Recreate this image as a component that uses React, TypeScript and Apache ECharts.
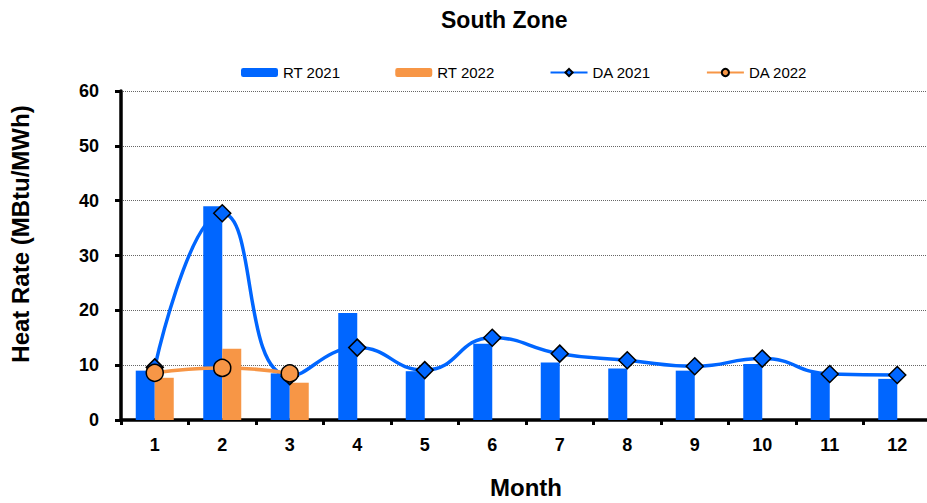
import React, { useEffect, useRef } from "react";
import * as echarts from "echarts";

const months = ["1", "2", "3", "4", "5", "6", "7", "8", "9", "10", "11", "12"];
const rt2021 = [9.0, 39.0, 8.5, 19.5, 8.9, 13.9, 10.5, 9.4, 9.0, 10.2, 8.6, 7.5];
const rt2022 = [7.7, 13.0, 6.8, null, null, null, null, null, null, null, null, null];
const da2021 = [9.6, 37.7, 8.0, 13.2, 9.1, 15.0, 12.1, 10.9, 9.8, 11.2, 8.4, 8.2];
const da2022 = [8.6, 9.5, 8.5, null, null, null, null, null, null, null, null, null];
const yTicks = [0, 10, 20, 30, 40, 50, 60];

const BLUE = "#0066ff";
const ORANGE = "#f79646";
const FONT = "Liberation Sans, Arial, sans-serif";

export default function App() {
  const ref = useRef<HTMLDivElement>(null);
  useEffect(() => {
    if (!ref.current) return;
    const chart = echarts.init(ref.current, null, { renderer: "svg" });
    chart.setOption({
      animation: false,
      textStyle: { fontFamily: FONT },
      title: {
        text: "South Zone",
        left: 436,
        top: 3,
        textStyle: { fontFamily: FONT, fontSize: 23, fontWeight: "bold", color: "#000" },
      },
      legend: {
        left: 236,
        top: 60,
        itemWidth: 37,
        itemHeight: 9,
        itemGap: 55,
        textStyle: { fontFamily: FONT, fontSize: 15, color: "#000" },
        data: ["RT 2021", "RT 2022", "DA 2021", "DA 2022"],
      },
      graphic: [
        {
          type: "text",
          x: 20,
          y: 234,
          rotation: Math.PI / 2,
          style: {
            text: "Heat Rate (MBtu/MWh)",
            font: `bold 24px ${FONT}`,
            fill: "#000",
            textAlign: "center",
            textVerticalAlign: "middle",
          },
        },
      ],
      grid: { left: 121, right: -4, top: 91, bottom: 83, containLabel: false, outerBoundsMode: "none" },
      xAxis: {
        type: "category",
        data: months,
        name: "Month",
        nameLocation: "middle",
        nameGap: 55,
        nameTextStyle: { fontFamily: FONT, fontSize: 24, fontWeight: "bold", color: "#000" },
        axisLine: { lineStyle: { color: "#000", width: 3.5 } },
        axisTick: { show: true, inside: false, length: 5, lineStyle: { color: "#000", width: 3 } },
        axisLabel: { fontFamily: FONT, fontSize: 18, fontWeight: "bold", color: "#000", margin: 16 },
        splitLine: { show: false },
      },
      yAxis: {
        type: "value",
        min: 0,
        max: 60,
        interval: 10,
        axisLine: { show: true, lineStyle: { color: "#000", width: 3.5 } },
        axisTick: { show: true, length: 6, lineStyle: { color: "#000", width: 3 } },
        axisLabel: {
          fontFamily: FONT,
          fontSize: 18,
          fontWeight: "bold",
          color: "#000",
          margin: 22,
          formatter: (v: number) => (yTicks.includes(v) ? String(v) : ""),
        },
        splitLine: { show: true, lineStyle: { color: "#666", type: "dotted", width: 1 } },
      },
      series: [
        {
          name: "RT 2021",
          type: "bar",
          data: rt2021,
          barWidth: 19,
          barGap: "0%",
          itemStyle: { color: BLUE },
        },
        {
          name: "RT 2022",
          type: "bar",
          data: rt2022,
          barWidth: 19,
          barGap: "0%",
          itemStyle: { color: ORANGE },
        },
        {
          name: "DA 2021",
          type: "line",
          data: da2021,
          smooth: 0.5,
          symbol: "diamond",
          symbolSize: 17,
          lineStyle: { color: BLUE, width: 3.5 },
          itemStyle: { color: BLUE, borderColor: "#000", borderWidth: 1.5 },
          z: 3,
        },
        {
          name: "DA 2022",
          type: "line",
          data: da2022,
          smooth: 0.5,
          symbol: "circle",
          symbolSize: 17,
          lineStyle: { color: ORANGE, width: 3.5 },
          itemStyle: { color: ORANGE, borderColor: "#000", borderWidth: 1.5 },
          z: 4,
        },
      ],
    });
    return () => chart.dispose();
  }, []);
  return (
    <div
      ref={ref}
      style={{ position: "absolute", left: 0, top: 0, width: 927, height: 503 }}
    />
  );
}
